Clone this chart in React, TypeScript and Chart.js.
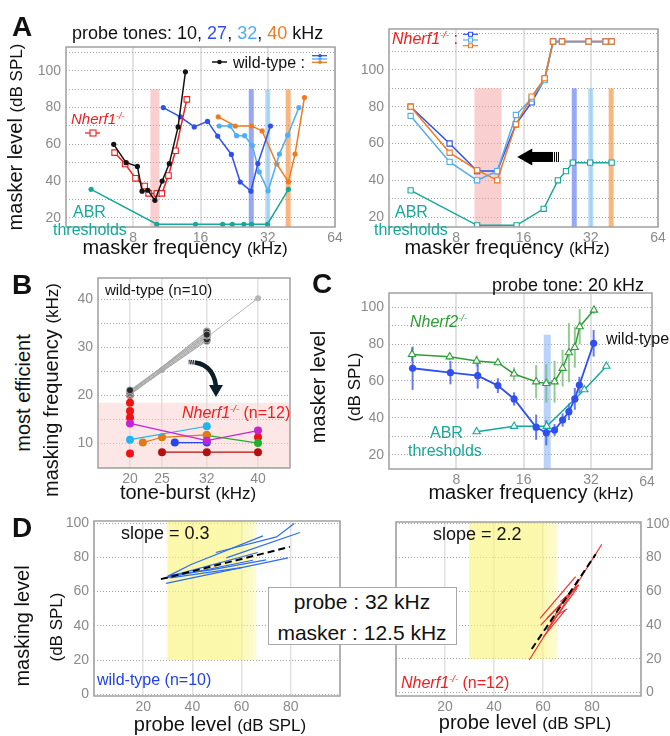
import React, { useEffect, useRef } from 'react';
import { Chart, registerables } from 'chart.js';
Chart.register(...registerables);

const FONT = "'Liberation Sans', Arial, Helvetica, sans-serif";
const BLACK = '#141414';
const RED = '#f01e1e';
const BLUE = '#2f4ff0';
const LBLUE = '#52aef2';
const ORANGE = '#f07a22';
const TEAL = '#17a79b';
const GREEN = '#2e9e38';
const TICK = '#8a8a8a';

// ---------- Panel A (left, wild-type) ----------
const freqTicks = [8, 16, 32, 64];
const aWt10Freq = [6.54, 7.43, 8.35, 8.76, 9.3, 10.0, 10.78, 11.6, 12.7, 13.7];
const aWt10Lvl = [60, 50, 48, 34.5, 35, 29.5, 40, 49.5, 69.5, 99.5];
const aKo10Freq = [6.6, 7.36, 8.19, 9.0, 9.37, 10.2, 10.74, 11.5, 12.37, 13.9];
const aKo10Lvl = [55.5, 49.3, 41.5, 37.3, 33.3, 33.3, 33.3, 43, 56.5, 84.5];
const aWt27Freq = [10.9, 13.0, 15.0, 17.2, 19.1, 22.0, 24.1, 26.9, 28.9, 32.9];
const aWt27Lvl = [80, 75, 69.5, 72.5, 64.5, 54.5, 39.5, 34.5, 49.5, 70];
const aWt32Freq = [19.4, 21.7, 23.2, 25.2, 27.3, 29.3, 32.1, 36.1, 39.3, 44.1];
const aWt32Lvl = [70, 70, 64.7, 64.7, 59.3, 45, 34.7, 54.7, 65, 80];
const aWt40Freq = [19.2, 22.9, 27.1, 30.2, 35.1, 39.6, 42.4, 46.7];
const aWt40Lvl = [75, 70, 70, 67.3, 49.3, 39.6, 54.7, 85.5];
const aWtAbrFreq = [5.18, 10.2, 15.2, 20.1, 22.2, 25.0, 27.1, 31.9, 39.6];
const aWtAbrLvl = [35.5, 16.5, 16.5, 16.5, 16.5, 16.5, 16.5, 16.5, 35.5];
const aProbeFreqs = [10, 27, 32, 39.5];
const aProbeTop = 90;

// ---------- Panel A (right, Nherf1-/-) ----------
const aKoFreq = [5.0, 7.47, 9.92, 12.2, 14.8, 17.4, 19.9, 21.7, 23.8, 31.3, 37.3, 39.7];
const aKo27Lvl = [80, 60, 45, 45, 70.5, 82.4, 95, 115.5, 115.5, 115.5, 115.5, 115.5];
const aKo32Lvl = [75, 50, 40, 45, 75.5, 84.5, 94.5, 115.3, 115.3, 115.3, 115.3, 115.3];
const aKo40Lvl = [80, 55, 45.5, 40, 70.5, 85.5, 95.5, 115.5, 115.5, 115.5, 115.5, 115.5];
const aKoAbrFreq = [5.0, 9.92, 14.9, 19.7, 22.8, 24.8, 26.6, 31.8, 39.7];
const aKoAbrLvl = [34.5, 15.5, 15.5, 24.5, 40, 45, 49.6, 49.6, 49.6];
const aKoMaskRange = [9.65, 12.75];
const aArrowFreq = [15, 23.3];
const aArrowLvl = 52.7;

// ---------- Panel B ----------
const bBurstTicks = [20, 25, 32, 40];
const bWtStart = [21, 20.7, 20.4, 20.1, 20.9, 20.3, 20.6, 20.5, 20.2];
const bWtEnd = [32.6, 33.1, 32.4, 31.6, 32.2, 31.3, 32.8, 33.3, 31.9];
const bWtFullBurst = [20, 25, 32, 40];
const bWtFullFreq = [20, 25.2, 32, 40.2];
const bKoRedBurst = [20, 20, 20, 20, 20, 40];
const bKoRedFreq = [20, 18.4, 16.7, 15.3, 7.8, 11.2];
const bKoMagBurst = [20, 32, 40];
const bKoMagFreq = [14.1, 10.5, 12.6];
const bKoCyanBurst = [20, 32];
const bKoCyanFreq = [10.7, 13.5];
const bKoOrangeBurst = [22, 25, 32];
const bKoOrangeFreq = [10.1, 11.2, 11.7];
const bKoBlueBurst = [27, 32];
const bKoBlueFreq = [10.1, 10.1];
const bKoGreenBurst = [32, 40];
const bKoGreenFreq = [11.6, 10];
const bKoDarkBurst = [25, 32, 40];
const bKoDarkFreq = [8.1, 8.1, 8.1];
const bKoZoneTop = 18.4;
const bArrowPts = [[29.17, 26.9], [32.95, 26.9], [33.43, 21.9], [33.43, 19.6]];

// ---------- Panel C ----------
const cWtFreq = [5.1, 7.53, 9.97, 12.27, 14.5, 18.2, 20.2, 22.0, 23.9, 25.5, 27.1, 28.4, 32.9];
const cWtLvl = [66.9, 64.5, 62.9, 57.5, 50.3, 35, 32, 33.5, 38.9, 43.4, 50.3, 57.8, 80.4];
const cWtErr = [11.7, 6.3, 7, 4, 3.6, 6.8, 6.8, 3.2, 3.6, 4.5, 5.9, 4.5, 7.2];
const cKo2Freq = [5.07, 7.47, 9.86, 12.27, 14.5, 18.2, 20.2, 22.0, 23.9, 25.5, 27.1, 28.5, 33.0];
const cKo2Lvl = [74.4, 73.1, 70.8, 69.9, 63.8, 59.6, 58.7, 59.6, 66.9, 75.3, 78.2, 89.4, 98.4];
const cKo2Err = [3.6, 2, 3, 1.5, 3.6, 9, 10.4, 11.3, 9.9, 16, 11, 9.5, 2];
const cAbrFreq = [9.86, 14.5, 20.3, 29.9, 37.5];
const cAbrLvl = [32.6, 35.5, 35.5, 55.3, 68];
const cProbeFreq = 20.4;
const cProbeTop = 85;

// ---------- Panel D ----------
const dWtLinesX = [
  [29.9, 39.5, 68.7],
  [49.5, 74.2, 81.4],
  [53.8, 83.7],
  [29.9, 66.6],
  [29.3, 64.6],
  [29.3, 78.9],
  [31, 60],
  [30.5, 47, 70],
];
const dWtLinesY = [
  [68.9, 75.8, 92.5],
  [82.8, 91.9, 99.7],
  [79.7, 94.5],
  [68.6, 82.8],
  [68.0, 78.3],
  [64.8, 79.7],
  [68, 74],
  [69.5, 72.5, 78.5],
];
const dWtFitX = [27.2, 79.6];
const dWtFitY = [67.3, 86.1];
const dKoLinesX = [
  [54.4, 84.0], [58.8, 73.3], [59.1, 74.6], [60.2, 69.1], [61.6, 73.9],
  [63.2, 69.1], [65.7, 69.8], [67.1, 74.6], [61.6, 68.4],
];
const dKoLinesY = [
  [19.3, 87.8], [44.0, 68.6], [40.0, 63.7], [33.1, 48.9], [37.1, 61.8],
  [41.0, 56.8], [45.9, 49.5], [53.8, 63.7], [44.0, 53.8],
];
const dKoFitX = [55.4, 81.5];
const dKoFitY = [25.8, 81.9];
const dYellowRange = [29.8, 66];
const dYellowBottom = 20;

// ---------- helpers ----------
const pts = (xs: number[], ys: number[]) => xs.map((x, i) => ({ x, y: ys[i] }));
const tickFont = { family: FONT, size: 14 };

function yLin(min: number, max: number, step: number, every: number, yw: number, position = 'left', labelMax = 100) {
  return {
    type: 'linear', position, min, max,
    afterFit: (s: any) => { s.width = yw; },
    grid: { drawTicks: false, color: '#a5a5a5', lineWidth: 1 },
    border: { display: false, dash: [1, 2] },
    ticks: {
      stepSize: step, includeBounds: false, padding: 5, color: TICK, font: tickFont,
      callback: (v: number) => (Math.abs(v % every) < 1e-6 && v <= labelMax ? String(v) : ''),
    },
  };
}
function xLog(xh: number, max = 64) {
  return {
    type: 'logarithmic', min: 4, max,
    afterFit: (s: any) => { s.height = xh; },
    afterBuildTicks: (s: any) => { s.ticks = freqTicks.filter((v) => v <= max).map((v) => ({ value: v })); },
    grid: { drawTicks: false, color: '#e2e2e2', lineWidth: 2 },
    border: { display: false },
    ticks: { padding: 3, color: TICK, font: tickFont, autoSkip: false, maxRotation: 0, callback: (v: number) => String(v) },
  };
}
function xLin(min: number, max: number, xh: number, ticksArr: number[] | null, step?: number) {
  return {
    type: 'linear', min, max,
    afterFit: (s: any) => { s.height = xh; },
    afterBuildTicks: ticksArr ? (s: any) => { s.ticks = ticksArr.map((v) => ({ value: v })); } : undefined,
    grid: { drawTicks: false, color: '#e2e2e2', lineWidth: 1.5 },
    border: { display: false },
    ticks: {
      stepSize: step, padding: 3, color: TICK, font: tickFont, autoSkip: false, maxRotation: 0,
      callback: (v: number) => (v > min && v < max ? String(v) : ''),
    },
  };
}
const framePlugin = {
  id: 'frame',
  afterDraw(chart: any) {
    const { ctx, chartArea: a } = chart;
    ctx.save();
    ctx.strokeStyle = '#a0a0a0';
    ctx.lineWidth = 1.5;
    ctx.strokeRect(a.left, a.top, a.right - a.left, a.bottom - a.top);
    ctx.restore();
  },
};
function bandsPlugin(items: any[]) {
  return {
    id: 'bands',
    beforeDatasetsDraw(chart: any) {
      const { ctx, chartArea: a, scales } = chart;
      const x = scales.x, y = scales.y;
      ctx.save();
      ctx.beginPath();
      ctx.rect(a.left, a.top, a.right - a.left, a.bottom - a.top);
      ctx.clip();
      for (const b of items) {
        let x0: number, x1: number;
        if (b.center != null) {
          const c = x.getPixelForValue(b.center);
          x0 = c - b.px / 2; x1 = c + b.px / 2;
        } else {
          x0 = x.getPixelForValue(b.from); x1 = x.getPixelForValue(b.to);
        }
        const yt = b.top != null ? y.getPixelForValue(b.top) : a.top;
        const yb = b.bottom != null ? y.getPixelForValue(b.bottom) : a.bottom;
        if (b.fade) {
          const g = ctx.createLinearGradient(x0, 0, x1, 0);
          g.addColorStop(0, b.color);
          g.addColorStop(0.8, b.color);
          g.addColorStop(1, b.fade);
          ctx.fillStyle = g;
        } else ctx.fillStyle = b.color;
        ctx.fillRect(x0, yt, x1 - x0, yb - yt);
      }
      ctx.restore();
    },
  };
}
const baseOptions = (scales: any) => ({
  responsive: false,
  maintainAspectRatio: false,
  animation: false,
  events: [],
  scales,
  plugins: { legend: { display: false }, tooltip: { enabled: false } },
});

function ChartCanvas({ area, yw, xh, padT = 16, padR = 14, padL = 8, yRight = false, make }: any) {
  const ref = useRef<HTMLCanvasElement>(null);
  const left = yRight ? area.l - padL : area.l - yw;
  const top = area.t - padT;
  const width = yRight ? area.r - area.l + padL + yw : area.r - area.l + yw + padR;
  const height = area.b - area.t + padT + xh;
  useEffect(() => {
    const cfg = make();
    cfg.options.layout = { padding: { top: padT, left: yRight ? padL : 0, right: yRight ? 0 : padR, bottom: 0 } };
    const ch = new Chart(ref.current as HTMLCanvasElement, cfg);
    return () => ch.destroy();
  }, []);
  return <canvas ref={ref} width={width} height={height} style={{ position: 'absolute', left, top, width, height }} />;
}

const lineDs = (data: any[], color: string, extra: any = {}) => ({
  data, showLine: true, borderColor: color, backgroundColor: color, borderWidth: 1.5,
  pointRadius: 2.6, pointBorderWidth: 0, pointBackgroundColor: color, ...extra,
});
const openSq = (color: string, r = 4) => ({
  pointStyle: 'rect', pointRadius: r, pointBackgroundColor: '#fff', pointBorderColor: color, pointBorderWidth: 1.1,
});
const openTri = (color: string) => ({
  pointStyle: 'triangle', pointRadius: 4.2, pointBackgroundColor: '#fff', pointBorderColor: color, pointBorderWidth: 1.1,
});

// ---------- chart configs ----------
function makeALeft() {
  return {
    type: 'scatter',
    data: {
      datasets: [
        lineDs(pts(aWt10Freq, aWt10Lvl), BLACK),
        lineDs(pts(aKo10Freq, aKo10Lvl), RED, openSq(RED, 3.9)),
        lineDs(pts(aWt27Freq, aWt27Lvl), BLUE),
        lineDs(pts(aWt32Freq, aWt32Lvl), LBLUE),
        lineDs(pts(aWt40Freq, aWt40Lvl), ORANGE),
        lineDs(pts(aWtAbrFreq, aWtAbrLvl), TEAL),
      ],
    },
    options: baseOptions({ x: xLog(28), y: yLin(15, 113, 10, 20, 34) }),
    plugins: [
      bandsPlugin([
        { center: aProbeFreqs[0], px: 9, top: aProbeTop, color: 'rgba(246,160,160,0.5)' },
        { center: aProbeFreqs[1], px: 5, top: aProbeTop, color: 'rgba(80,110,240,0.6)' },
        { center: aProbeFreqs[2], px: 5, top: aProbeTop, color: 'rgba(140,200,245,0.65)' },
        { center: aProbeFreqs[3], px: 5, top: aProbeTop, color: 'rgba(245,145,60,0.65)' },
      ]),
      framePlugin,
    ],
  };
}
function makeARight() {
  const arrow = {
    id: 'arrow',
    afterDatasetsDraw(chart: any) {
      const { ctx, scales } = chart;
      const tip = scales.x.getPixelForValue(aArrowFreq[0]);
      const tail = scales.x.getPixelForValue(aArrowFreq[1]);
      const yy = scales.y.getPixelForValue(aArrowLvl);
      ctx.save();
      ctx.fillStyle = '#000';
      ctx.beginPath();
      ctx.moveTo(tip, yy);
      ctx.lineTo(tip + 15, yy - 8.5);
      ctx.lineTo(tip + 15, yy + 8.5);
      ctx.closePath();
      ctx.fill();
      ctx.fillRect(tip + 14, yy - 5, tail - 8 - (tip + 14), 10);
      for (let i = 0; i < 4; i++) ctx.fillRect(tail - 8 + i * 2, yy - 5, 1, 10);
      ctx.restore();
    },
  };
  return {
    type: 'scatter',
    data: {
      datasets: [
        lineDs(pts(aKoFreq, aKo40Lvl), ORANGE, openSq(ORANGE, 3.7)),
        lineDs(pts(aKoFreq, aKo32Lvl), LBLUE, openSq(LBLUE, 3.7)),
        lineDs(pts(aKoFreq, aKo27Lvl), BLUE, openSq(BLUE, 3.7)),
        lineDs(pts(aKoAbrFreq, aKoAbrLvl), TEAL, openSq(TEAL, 3.7)),
      ],
    },
    options: baseOptions({ x: xLog(28), y: yLin(14.6, 122.3, 10, 20, 34) }),
    plugins: [
      bandsPlugin([
        { from: aKoMaskRange[0], to: aKoMaskRange[1], top: aProbeTop, color: 'rgba(246,160,160,0.5)' },
        { center: aProbeFreqs[1], px: 5, top: aProbeTop, color: 'rgba(80,110,240,0.6)' },
        { center: aProbeFreqs[2], px: 5, top: aProbeTop, color: 'rgba(140,200,245,0.65)' },
        { center: aProbeFreqs[3], px: 5, top: aProbeTop, color: 'rgba(245,145,60,0.65)' },
      ]),
      arrow,
      framePlugin,
    ],
  };
}
function makeB() {
  const arrow = {
    id: 'curvedArrow',
    afterDatasetsDraw(chart: any) {
      const { ctx, scales } = chart;
      const p = bArrowPts.map(([a, b]) => [scales.x.getPixelForValue(a), scales.y.getPixelForValue(b)]);
      ctx.save();
      ctx.strokeStyle = '#0c1e2a';
      ctx.fillStyle = '#0c1e2a';
      ctx.lineWidth = 4.5;
      ctx.beginPath();
      ctx.moveTo(p[0][0], p[0][1]);
      ctx.quadraticCurveTo(p[1][0], p[1][1], p[2][0], p[2][1]);
      ctx.stroke();
      ctx.beginPath();
      ctx.moveTo(p[2][0] - 7, p[2][1] - 1);
      ctx.lineTo(p[2][0] + 7, p[2][1] - 1);
      ctx.lineTo(p[3][0], p[3][1]);
      ctx.closePath();
      ctx.fill();
      ctx.strokeStyle = '#fff';
      ctx.lineWidth = 0.8;
      for (let i = 0; i < 3; i++) {
        ctx.beginPath();
        ctx.moveTo(p[0][0] + 2 + i * 2.2, p[0][1] - 4);
        ctx.lineTo(p[0][0] + 0.5 + i * 2.2, p[0][1] + 4);
        ctx.stroke();
      }
      ctx.restore();
    },
  };
  const wtLines = bWtStart.map((s, i) =>
    lineDs([{ x: 20, y: s }, { x: 32, y: bWtEnd[i] }], '#a8a8a8', {
      borderWidth: 1, pointRadius: 3.6, pointBackgroundColor: '#2a2a2a', pointBorderColor: '#cfcfcf', pointBorderWidth: 0.8,
    }));
  const ko = (xs: number[], ys: number[], c: string) => lineDs(pts(xs, ys), c, { borderWidth: 1.2, pointRadius: 4 });
  return {
    type: 'scatter',
    data: {
      datasets: [
        ...wtLines,
        lineDs(pts(bWtFullBurst, bWtFullFreq), '#b5b5b5', { borderWidth: 1, pointRadius: 3, pointBackgroundColor: '#b5b5b5' }),
        ko(bKoMagBurst, bKoMagFreq, '#c424d2'),
        ko(bKoCyanBurst, bKoCyanFreq, '#22b4f0'),
        ko(bKoOrangeBurst, bKoOrangeFreq, '#e07a18'),
        ko(bKoBlueBurst, bKoBlueFreq, '#2446f0'),
        ko(bKoGreenBurst, bKoGreenFreq, '#22b02a'),
        ko(bKoDarkBurst, bKoDarkFreq, '#b41010'),
        { data: pts(bKoRedBurst, bKoRedFreq), showLine: false, pointRadius: 4, pointBorderWidth: 0, pointBackgroundColor: '#f21010' },
      ],
    },
    options: baseOptions({ x: xLin(15, 45, 24, bBurstTicks), y: yLin(4.8, 44.4, 5, 10, 38) }),
    plugins: [
      bandsPlugin([{ from: 15, to: 45, top: bKoZoneTop, color: 'rgba(248,200,200,0.45)' }]),
      arrow,
      framePlugin,
    ],
  };
}
function makeC() {
  const wtErr = cWtFreq.map((f, i) => ({
    data: [{ x: f, y: cWtLvl[i] - cWtErr[i] }, { x: f, y: cWtLvl[i] + cWtErr[i] }],
    showLine: true, pointRadius: 0, borderColor: 'rgba(60,90,240,0.8)', borderWidth: 2,
  }));
  const koErr = cKo2Freq.map((f, i) => ({
    data: [{ x: f, y: cKo2Lvl[i] - cKo2Err[i] }, { x: f, y: cKo2Lvl[i] + cKo2Err[i] }],
    showLine: true, pointRadius: 0, borderColor: 'rgba(120,190,120,0.8)', borderWidth: 2,
  }));
  return {
    type: 'scatter',
    data: {
      datasets: [
        lineDs(pts(cWtFreq, cWtLvl), BLUE, { pointRadius: 3.6, borderWidth: 1.8 }),
        lineDs(pts(cKo2Freq, cKo2Lvl), GREEN, openTri(GREEN)),
        lineDs(pts(cAbrFreq, cAbrLvl), TEAL, openTri(TEAL)),
        ...wtErr,
        ...koErr,
      ],
    },
    options: baseOptions({ x: xLog(22, 60), y: yLin(12.4, 107.6, 10, 20, 44) }),
    plugins: [
      bandsPlugin([{ center: cProbeFreq, px: 7, top: cProbeTop, color: 'rgba(130,175,245,0.55)' }]),
      framePlugin,
    ],
  };
}
function makeD(linesX: number[][], linesY: number[][], fitX: number[], fitY: number[], color: string, ymin: number, ymax: number, yw: number, pos: string) {
  const lines = linesX.map((xs, i) => ({
    data: pts(xs, linesY[i]), showLine: true, pointRadius: 0, borderColor: color, borderWidth: 1.2,
  }));
  return {
    type: 'scatter',
    data: {
      datasets: [
        { data: pts(fitX, fitY), showLine: true, pointRadius: 0, borderColor: '#000', borderWidth: 2, borderDash: [7, 4] },
        ...lines,
      ],
    },
    options: baseOptions({ x: xLin(0, 100, 21, null, 20), y: yLin(ymin, ymax, 10, 20, yw, pos) }),
    plugins: [
      bandsPlugin([{ from: dYellowRange[0], to: dYellowRange[1], bottom: dYellowBottom, color: 'rgba(250,244,120,0.62)', fade: 'rgba(250,244,120,0.3)' }]),
      framePlugin,
    ],
  };
}

// ---------- text helpers ----------
function Txt({ x, y, size = 16, color = '#111', align = 'left', bold = false, italic = false, children }: any) {
  const tx = align === 'center' ? '-50%' : align === 'right' ? '-100%' : '0';
  return (
    <div style={{
      position: 'absolute', left: x, top: y, transform: `translate(${tx},-50%)`, fontSize: size,
      lineHeight: `${Math.round(size * 1.2)}px`, color, fontWeight: bold ? 'bold' : 'normal',
      fontStyle: italic ? 'italic' : 'normal', whiteSpace: 'nowrap',
    }}>{children}</div>
  );
}
function VTxt({ x, y, size = 20, color = '#111', children }: any) {
  return (
    <div style={{
      position: 'absolute', left: x, top: y, transform: 'translate(-50%,-50%) rotate(-90deg)', fontSize: size,
      lineHeight: `${Math.round(size * 1.2)}px`, color, whiteSpace: 'nowrap',
    }}>{children}</div>
  );
}
const Sup = ({ children }: any) => <span style={{ fontSize: '0.6em', position: 'relative', top: '-0.6em' }}>{children}</span>;
const Ko = ({ name = 'Nherf1' }: any) => <><i>{name}</i><Sup><i>-/-</i></Sup></>;
const Small = ({ children }: any) => <span style={{ fontSize: 17 }}>{children}</span>;

export default function App() {
  return (
    <div style={{ position: 'fixed', left: 0, top: 0, width: 670, height: 736, background: '#fff', overflow: 'hidden', fontFamily: FONT, color: '#111' }}>
      <ChartCanvas area={{ l: 66, t: 47, r: 335, b: 227 }} yw={34} xh={28} make={makeALeft} />
      <ChartCanvas area={{ l: 389, t: 29, r: 658, b: 227 }} yw={34} xh={28} padR={12} make={makeARight} />
      <ChartCanvas area={{ l: 98, t: 278, r: 290, b: 468 }} yw={38} xh={24} make={makeB} />
      <ChartCanvas area={{ l: 389, t: 293, r: 652, b: 469 }} yw={44} xh={22} padR={12} make={makeC} />
      <ChartCanvas area={{ l: 94, t: 521, r: 340, b: 696 }} yw={44} xh={21} padR={8}
        make={() => makeD(dWtLinesX, dWtLinesY, dWtFitX, dWtFitY, '#2f6cf2', -0.9, 101.2, 44, 'left')} />
      <ChartCanvas area={{ l: 396, t: 522, r: 641, b: 696 }} yw={29} xh={21} yRight padL={8}
        make={() => makeD(dKoLinesX, dKoLinesY, dKoFitX, dKoFitY, '#f23030', -2, 101, 29, 'right')} />

      {/* Panel A */}
      <Txt x={12} y={27} size={28} bold>A</Txt>
      <Txt x={72} y={33} size={18}>probe tones: 10, <span style={{ color: BLUE }}>27</span>, <span style={{ color: LBLUE }}>32</span>, <span style={{ color: ORANGE }}>40</span> kHz</Txt>
      <svg style={{ position: 'absolute', left: 208, top: 56 }} width={24} height={12}>
        <line x1={4} y1={6} x2={19} y2={6} stroke={BLACK} strokeWidth={1.5} />
        <circle cx={11.5} cy={6} r={2.3} fill={BLACK} />
      </svg>
      <Txt x={233} y={62} size={16}>wild-type :</Txt>
      <svg style={{ position: 'absolute', left: 310, top: 50 }} width={20} height={16}>
        <line x1={2} y1={5.7} x2={17} y2={5.7} stroke={BLUE} strokeWidth={1.3} /><circle cx={10} cy={5.7} r={1.8} fill={BLUE} />
        <line x1={2} y1={9} x2={17} y2={9} stroke={LBLUE} strokeWidth={1.3} /><circle cx={10} cy={9} r={1.8} fill={LBLUE} />
        <line x1={2} y1={12.3} x2={17} y2={12.3} stroke={ORANGE} strokeWidth={1.3} /><circle cx={10} cy={12.3} r={1.8} fill={ORANGE} />
      </svg>
      <Txt x={71} y={120} size={15} color={RED}><Ko /></Txt>
      <svg style={{ position: 'absolute', left: 82, top: 127 }} width={22} height={12}>
        <line x1={3} y1={6} x2={18} y2={6} stroke={RED} strokeWidth={1.3} />
        <rect x={8} y={3} width={6} height={6} fill="#fff" stroke={RED} strokeWidth={1.1} />
      </svg>
      <Txt x={73} y={211} size={16} color={TEAL}>ABR</Txt>
      <Txt x={53} y={229} size={16} color={TEAL}>thresholds</Txt>
      <Txt x={392} y={39} size={16} color={RED}><Ko /> :</Txt>
      <svg style={{ position: 'absolute', left: 460, top: 29 }} width={22} height={22}>
        <line x1={3} y1={5.3} x2={18} y2={5.3} stroke={BLUE} strokeWidth={1.2} /><rect x={8.5} y={3.3} width={4} height={4} fill="#fff" stroke={BLUE} />
        <line x1={3} y1={11} x2={18} y2={11} stroke={LBLUE} strokeWidth={1.2} /><rect x={8.5} y={9} width={4} height={4} fill="#fff" stroke={LBLUE} />
        <line x1={3} y1={16.7} x2={18} y2={16.7} stroke={ORANGE} strokeWidth={1.2} /><rect x={8.5} y={14.7} width={4} height={4} fill="#fff" stroke={ORANGE} />
      </svg>
      <Txt x={395} y={211} size={16} color={TEAL}>ABR</Txt>
      <Txt x={374} y={229} size={16} color={TEAL}>thresholds</Txt>
      <VTxt x={16} y={137} size={20}>masker level <Small>(dB SPL)</Small></VTxt>
      <Txt x={185} y={248} size={20} align="center">masker frequency <Small>(kHz)</Small></Txt>
      <Txt x={507} y={248} size={20} align="center">masker frequency <Small>(kHz)</Small></Txt>

      {/* Panel B */}
      <Txt x={12} y={285} size={28} bold>B</Txt>
      <VTxt x={23} y={393} size={20}>most efficient</VTxt>
      <VTxt x={52} y={390} size={20}>masking frequency <Small>(kHz)</Small></VTxt>
      <Txt x={105} y={290} size={15}>wild-type (n=10)</Txt>
      <Txt x={182} y={413} size={16} color={RED}><Ko /> (n=12)</Txt>
      <Txt x={188} y={493} size={20} align="center">tone-burst <Small>(kHz)</Small></Txt>

      {/* Panel C */}
      <Txt x={312} y={284} size={28} bold>C</Txt>
      <Txt x={492} y={285} size={18}>probe tone: 20 kHz</Txt>
      <Txt x={410} y={322} size={16} color={GREEN}><Ko name="Nherf2" /></Txt>
      <Txt x={606} y={338} size={16}>wild-type</Txt>
      <Txt x={430} y={432} size={16} color={TEAL}>ABR</Txt>
      <Txt x={408} y={450} size={16} color={TEAL}>thresholds</Txt>
      <Txt x={647} y={481} size={14} color={TICK} align="center">64</Txt>
      <VTxt x={318} y={387} size={20}>masker level</VTxt>
      <VTxt x={355} y={387} size={17}>(dB SPL)</VTxt>
      <Txt x={531} y={493} size={20} align="center">masker frequency <Small>(kHz)</Small></Txt>

      {/* Panel D */}
      <Txt x={12} y={528} size={28} bold>D</Txt>
      <Txt x={121} y={533} size={18}>slope = 0.3</Txt>
      <Txt x={433} y={534} size={18}>slope = 2.2</Txt>
      <Txt x={97} y={679} size={16} color="#1f3ff0">wild-type (n=10)</Txt>
      <Txt x={401} y={683} size={16} color={RED}><Ko /> (n=12)</Txt>
      <VTxt x={22} y={626} size={20}>masking level</VTxt>
      <VTxt x={57} y={627} size={17}>(dB SPL)</VTxt>
      <Txt x={220} y={725} size={20} align="center">probe level <Small>(dB SPL)</Small></Txt>
      <Txt x={525} y={723} size={20} align="center">probe level <Small>(dB SPL)</Small></Txt>
      <div style={{ position: 'absolute', left: 268, top: 587, width: 189, height: 58, background: '#fff', border: '1px solid #a8a8a8', boxSizing: 'border-box' }}>
        <Txt x={93} y={13} size={21} align="center">probe : 32 kHz</Txt>
        <Txt x={93} y={44} size={21} align="center">masker : 12.5 kHz</Txt>
      </div>
    </div>
  );
}
